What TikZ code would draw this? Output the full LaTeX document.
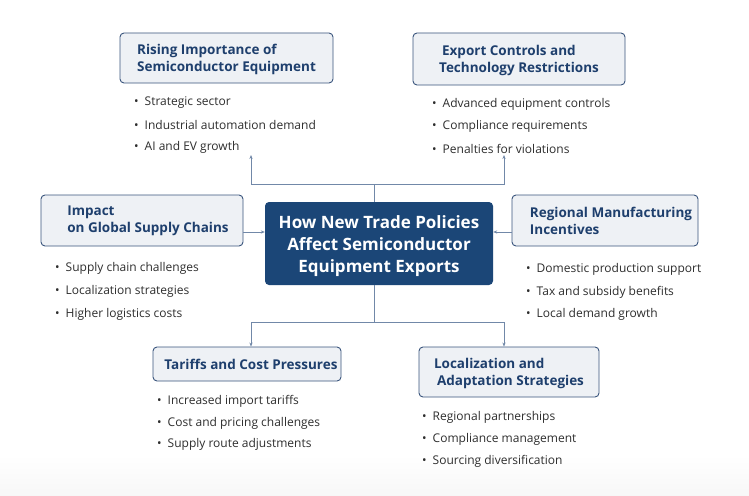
\documentclass[tikz,border=0pt]{standalone}
\usepackage{fontspec}
\setmainfont{Open Sans}
\usetikzlibrary{arrows.meta}

\definecolor{navy}{HTML}{1B4677}
\definecolor{navytext}{HTML}{1E3F6D}
\definecolor{boxfill}{HTML}{EEF1F5}
\definecolor{boxline}{HTML}{3A557D}
\definecolor{linkline}{HTML}{7188A8}
\definecolor{itemtext}{HTML}{2E2E2E}

\begin{document}
\begin{tikzpicture}[
    x=1pt,
    y=-1pt,
    topic/.style={draw=boxline,line width=0.9pt,fill=boxfill,rounded corners=4pt,
        font=\fontsize{13.5}{17}\selectfont\bfseries,text=navytext,inner sep=0pt},
    hub/.style={fill=navy,rounded corners=4pt,font=\fontsize{17}{22}\selectfont\bfseries,
        text=white,align=center,inner sep=0pt,minimum width=228pt,minimum height=83pt},
    item/.style={font=\fontsize{12}{14}\selectfont,text=itemtext,anchor=west,inner sep=0pt},
    link/.style={draw=linkline,line width=0.8pt},
    arrowlink/.style={link,-{Stealth[length=4pt,width=3.2pt]}}
]

% Canvas and faint floor.
\useasboundingbox (0,0) rectangle (749,495);
\fill[white] (0,0) rectangle (749,495);
\shade[top color=white,bottom color=black!3] (0,455) rectangle (749,495);

% Central topic.
\node[hub] (policy) at (379,243.5)
    {\rule{0pt}{19pt}How New Trade Policies\\Affect Semiconductor\\Equipment Exports};

% Surrounding topics.
\node[topic,align=left,minimum width=213pt,minimum height=50pt] (rise) at (226.5,58)
    {\rule{0pt}{14pt}Rising Importance of\\Semiconductor Equipment};
\node[topic,align=left,minimum width=212pt,minimum height=52pt] (export) at (519,59)
    {\rule{0pt}{14pt}\hspace*{3pt}Export Controls and\\Technology Restrictions};
\node[topic,align=left,minimum width=202pt,minimum height=51pt] (impact) at (142,220.5)
    {\hspace*{12pt}Impact\\\hspace*{12pt}on Global Supply Chains};
\node[topic,align=left,minimum width=186pt,minimum height=51pt] (regional) at (605,220.5)
    {\hspace*{12pt}Regional Manufacturing\\\hspace*{12pt}Incentives};
\node[topic,align=center,minimum width=188pt,minimum height=34pt] (tariffs) at (247,364)
    {\hspace*{8pt}Tariffs and Cost Pressures};
\node[topic,align=left,minimum width=180pt,minimum height=50pt] (local) at (509,372)
    {\rule{0pt}{14pt}Localization and\\\hspace*{3pt}Adaptation Strategies};

% Bullet lists.
\foreach \t [count=\i] in {Strategic sector,Industrial automation demand,AI and EV growth}
    \node[item] (rise\i) at (134,{103+22*(\i-1)}) {\textbullet\hspace{6pt}\t};
\foreach \t [count=\i] in {Advanced equipment controls,Compliance requirements,Penalties for violations}
    \node[item] (export\i) at (432,{104.5+22*(\i-1)}) {\textbullet\hspace{6pt}\t};
\foreach \t [count=\i] in {Supply chain challenges,Localization strategies,Higher logistics costs}
    \node[item] (impact\i) at (55,{268.5+23*(\i-1)}) {\textbullet\hspace{6pt}\t};
\foreach \t [count=\i] in {Domestic production support,Tax and subsidy benefits,Local demand growth}
    \node[item] (regional\i) at (526,{269.5+22.5*(\i-1)}) {\textbullet\hspace{6pt}\t};
\foreach \t [count=\i] in {Increased import tariffs,Cost and pricing challenges,Supply route adjustments}
    \node[item] (tariffs\i) at (157,{401.5+21.5*(\i-1)}) {\textbullet\hspace{6pt}\t};
\foreach \t [count=\i] in {Regional partnerships,Compliance management,Sourcing diversification}
    \node[item] (local\i) at (422,{417.5+22*(\i-1)}) {\textbullet\hspace{6pt}\t};

% Junction points of the tree.
\coordinate (stemtop) at ([xshift=-5pt]policy.north);
\coordinate (stembot) at ([xshift=-5pt]policy.south);
\coordinate (upL) at (251,184);
\coordinate (upR) at (504,184);
\coordinate (dnL) at (251,322);
\coordinate (dnR) at (504,322);

% Connectors.
\draw[arrowlink] (stemtop) |- (upL) -- (upL |- 0,155);
\draw[arrowlink] (stemtop) |- (upR) -- (upR |- 0,155);
\draw[arrowlink] (stembot) |- (dnL) -- (dnL |- tariffs.north);
\draw[arrowlink] (stembot) |- (dnR) -- (dnR |- local.north);
\draw[arrowlink] (impact.east |- 0,232) -- (policy.west |- 0,232);
\draw[arrowlink] (regional.west |- 0,232) -- (policy.east |- 0,232);

\end{tikzpicture}
\end{document}
